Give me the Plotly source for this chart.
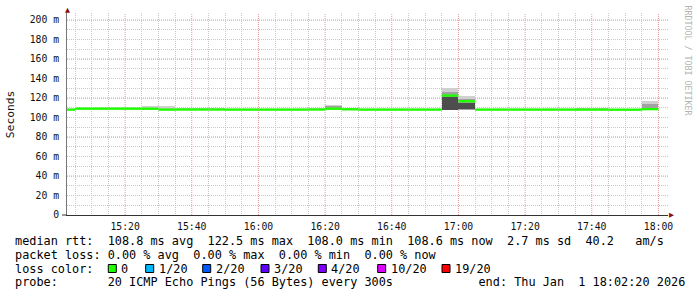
import plotly.graph_objects as go
import pandas as pd

# ---------------- data ----------------
interval_starts = list(pd.date_range("2026-01-01 15:00", periods=36, freq="5min"))
median_rtt = [108.1, 109.1, 109.1, 109.1, 109.1, 109.0, 108.1, 108.2, 108.2, 108.2,
              108.1, 108.1, 108.1, 108.1, 108.1, 108.2, 109.0, 108.4, 108.1, 108.1,
              108.1, 108.1, 108.1, 122.5, 116.7, 108.1, 108.1, 108.1, 108.1, 108.1,
              108.1, 108.1, 108.1, 108.0, 108.0, 108.6]
# smoke bands (ms): outer (light), middle, core (dark); None = no smoke
smoke_lo = [None]*5 + [108.5, 108.0, 108.0, 108.0, 108.0] + [None]*5 + [108.0, 108.5, 108.0] + [None]*5 + \
           [107.7, 108.0] + [None]*6 + [108.0, 108.0] + [None]*2 + [108.3]
smoke_hi = [None]*5 + [111.4, 111.3, 109.0, 108.9, 108.9] + [None]*5 + [110.0, 112.4, 110.0] + [None]*5 + \
           [130.3, 122.4] + [None]*6 + [109.3, 109.3] + [None]*2 + [117.0]
mid_lo = [None]*16 + [108.8] + [None]*6 + [108.0, 108.2] + [None]*10 + [108.4]
mid_hi = [None]*16 + [112.2] + [None]*6 + [126.0, 118.8] + [None]*10 + [113.5]
core_lo = [None]*23 + [108.2, 108.3] + [None]*11
core_hi = [None]*23 + [121.0, 115.0] + [None]*11

y_tick_vals = [0, 20, 40, 60, 80, 100, 120, 140, 160, 180, 200]
y_tick_text = ["0", "20 m", "40 m", "60 m", "80 m", "100 m", "120 m", "140 m", "160 m", "180 m", "200 m"]
x_major_times = list(pd.date_range("2026-01-01 15:20", "2026-01-01 18:00", freq="20min"))

loss_labels = ["0", "1/20", "2/20", "3/20", "4/20", "10/20", "19/20"]
loss_colors = ["#20ff00", "#00b8ff", "#0059ff", "#5e00ff", "#7e00ff", "#dd00ff", "#ff0000"]

legend_rows = [
    "median rtt:  108.8 ms avg  122.5 ms max  108.0 ms min  108.6 ms now  2.7 ms sd  40.2   am/s",
    "packet loss: 0.00 % avg  0.00 % max  0.00 % min  0.00 % now",
    "loss color:",
    "probe:       20 ICMP Echo Pings (56 Bytes) every 300s            end: Thu Jan  1 18:02:20 2026",
]

# ---------------- geometry helpers ----------------
L, R, T, B = 67, 668, 13, 215
W, H = R - L, B - T
def px(x): return (x - L) / W
def py(y): return (B - y) / H

MONO = "DejaVu Sans Mono"
step_ms = 300000

fig = go.Figure()

def band(lo, hi, color):
    ys = [None if (a is None or b is None) else b - a for a, b in zip(lo, hi)]
    fig.add_trace(go.Bar(x=interval_starts, y=ys, base=lo, width=step_ms, offset=0,
                         marker=dict(color=color, line=dict(width=0)), showlegend=False,
                         hoverinfo="skip"))

band(smoke_lo, smoke_hi, "#d0d0d0")
band(mid_lo, mid_hi, "#a2a2a2")
band(core_lo, core_hi, "#4e4e4e")

# median line, one flat segment per interval
mx, my = [], []
for t, m in zip(interval_starts, median_rtt):
    mx += [t, t + pd.Timedelta(minutes=5), None]
    my += [m, m, None]
fig.add_trace(go.Scatter(x=mx, y=my, mode="lines", line=dict(color=loss_colors[0], width=2.4),
                         showlegend=False, hoverinfo="skip"))

major_grid = "#e49a9a"
minor_grid = "#c8c8c8"

fig.update_layout(
    width=697, height=297,
    margin=dict(l=L, r=697 - R, t=T, b=297 - B, pad=0),
    paper_bgcolor="white", plot_bgcolor="white",
    barmode="overlay", bargap=0,
    showlegend=False,
    xaxis=dict(
        type="date",
        range=["2026-01-01 15:02:34", "2026-01-01 18:02:52"],
        tick0="2026-01-01 15:00", dtick=1200000, tickformat="%H:%M",
        showgrid=False,
        minor=dict(dtick=step_ms, tick0="2026-01-01 15:00", showgrid=True,
                   gridcolor=minor_grid, griddash="1px,1px", gridwidth=1),
        showline=True, linecolor="#333333", linewidth=1,
        ticks="outside", ticklen=2, tickcolor="rgba(0,0,0,0)",
        tickfont=dict(family=MONO, size=9.75, color="#111111"),
        zeroline=False, fixedrange=True,
    ),
    yaxis=dict(
        range=[0, 207.2],
        tickvals=y_tick_vals, ticktext=y_tick_text,
        showgrid=False,
        minor=dict(dtick=10, tick0=0, showgrid=True, gridcolor=minor_grid,
                   griddash="1px,1px", gridwidth=1),
        showline=True, linecolor="#777777", linewidth=1,
        ticks="outside", ticklen=5, tickcolor="rgba(0,0,0,0)",
        tickfont=dict(family=MONO, size=9.75, color="#111111"),
        zeroline=False, fixedrange=True,
    ),
)

shapes = []
# major grid (pink dotted), drawn under the data but over the minor grid
for t in x_major_times:
    shapes.append(dict(type="line", xref="x", yref="paper", x0=t, x1=t, y0=0, y1=1, layer="below",
                       line=dict(color=major_grid, width=1, dash="1px,1px")))
for v in y_tick_vals[1:]:
    shapes.append(dict(type="line", xref="paper", yref="y", x0=0, x1=1, y0=v, y1=v, layer="below",
                       line=dict(color=major_grid, width=1, dash="1px,1px")))
# short extension of x axis left of y axis
shapes.append(dict(type="line", xref="paper", yref="paper", x0=px(62), x1=px(67), y0=py(215), y1=py(215),
                   line=dict(color="#333333", width=1)))

annotations = []
# axis arrows
annotations.append(dict(text="\u25b2", x=px(67), y=py(10), xref="paper", yref="paper", showarrow=False,
                        xanchor="center", yanchor="middle", borderpad=0,
                        font=dict(family="DejaVu Sans", size=6.5, color="#8b1010")))
annotations.append(dict(text="\u25b6", x=px(671), y=py(215), xref="paper", yref="paper", showarrow=False,
                        xanchor="center", yanchor="middle", borderpad=0,
                        font=dict(family="DejaVu Sans", size=6.5, color="#8b1010")))
# y title
annotations.append(dict(text="Seconds", x=px(10.7), y=py(114.5), xref="paper", yref="paper",
                        showarrow=False, textangle=-90, font=dict(family=MONO, size=11.3, color="#111111"),
                        xanchor="center", yanchor="middle"))
# watermark
annotations.append(dict(text="RRDTOOL / TOBI OETIKER", x=px(687.5), y=py(60), xref="paper", yref="paper",
                        showarrow=False, textangle=90, font=dict(family=MONO, size=8.3, color="#b4b4b4"),
                        xanchor="center", yanchor="middle"))

row_y = [241, 255, 268.6, 282.4]
for text, yy in zip(legend_rows, row_y):
    annotations.append(dict(text=text.replace(" ", "\u00a0"), x=px(14.8), y=py(yy), xref="paper", yref="paper",
                            showarrow=False, xanchor="left", yanchor="middle", borderpad=0, borderwidth=0,
                            font=dict(family=MONO, size=11.85, color="#000000")))

box_x = [108.3, 145.7, 202.7, 261.0, 318.3, 377.7, 442.0]
for bx, lab, col in zip(box_x, loss_labels, loss_colors):
    shapes.append(dict(type="rect", xref="paper", yref="paper",
                       x0=px(bx), x1=px(bx + 8), y0=py(264.5), y1=py(272.5),
                       fillcolor=col, line=dict(color="#000000", width=1)))
    annotations.append(dict(text=lab, x=px(bx + 12.8), y=py(268.6), xref="paper", yref="paper",
                            showarrow=False, xanchor="left", yanchor="middle", borderpad=0, borderwidth=0,
                            font=dict(family=MONO, size=11.85, color="#000000")))

fig.update_layout(shapes=shapes, annotations=annotations)
fig.write_html("out.html")
